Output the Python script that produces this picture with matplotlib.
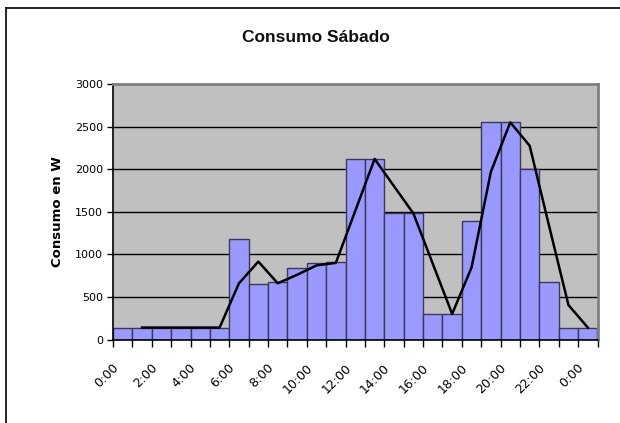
import matplotlib.pyplot as plt
import matplotlib.transforms as mtransforms
from matplotlib.lines import Line2D
import numpy as np

# Datos
horas = ["0:00", "1:00", "2:00", "3:00", "4:00", "5:00", "6:00", "7:00", "8:00",
         "9:00", "10:00", "11:00", "12:00", "13:00", "14:00", "15:00", "16:00",
         "17:00", "18:00", "19:00", "20:00", "21:00", "22:00", "23:00", "0:00"]
consumo = [140, 140, 140, 140, 140, 140, 1180, 650, 670, 845, 900, 905, 2120,
           2120, 1480, 1480, 300, 300, 1390, 2550, 2550, 2000, 670, 140, 140]
# media movil (linea negra), sin valor en la primera hora
media = [np.nan, 140, 140, 140, 140, 140, 660, 915, 660, 760, 870, 900, 1510,
         2120, 1800, 1480, 890, 300, 845, 1970, 2550, 2275, 1335, 405, 140]
etiquetas_y = [0, 500, 1000, 1500, 2000, 2500, 3000]

plt.rcParams["font.family"] = "DejaVu Sans"

fig = plt.figure(figsize=(6.2, 4.23), dpi=100)
ax = fig.add_axes([113 / 620, 1 - 339.5 / 423, 484.5 / 620, 255.5 / 423])

x = np.arange(len(consumo))
ax.set_facecolor("#C0C0C0")
ax.set_axisbelow(True)
ax.yaxis.grid(True, color="black", linewidth=1)
ax.bar(x, consumo, width=1.0, color="#9999FF", edgecolor="#3a3a55", linewidth=1)
ax.plot(x, media, color="black", linewidth=1.8)

ax.set_xlim(-0.5, len(consumo) - 0.5)
ax.set_ylim(0, 3000)
ax.set_yticks(etiquetas_y)
ax.set_yticklabels([str(v) for v in etiquetas_y], fontsize=8)
ax.tick_params(axis="y", direction="out", length=4, width=1, pad=3)

# marcas entre categorias, etiquetas cada dos horas
ax.set_xticks(np.arange(-0.5, len(consumo), 1.0), minor=True)
ax.set_xticks(x[::2])
ax.set_xticklabels(horas[::2], fontsize=9, rotation=45,
                   ha="right", va="center", rotation_mode="anchor")
ax.tick_params(axis="x", which="major", length=0, pad=19)
ax.tick_params(axis="x", which="minor", direction="out", length=5, width=1)
offset = mtransforms.ScaledTranslation(-6 / 100, 0, fig.dpi_scale_trans)
for lab in ax.get_xticklabels():
    lab.set_transform(lab.get_transform() + offset)

for s in ["left", "bottom"]:
    ax.spines[s].set_color("black")
    ax.spines[s].set_linewidth(1.2)
for s in ["top", "right"]:
    ax.spines[s].set_color("#808080")
    ax.spines[s].set_linewidth(2)

ax.set_ylabel("Consumo en W", fontsize=9.5, fontweight="bold", labelpad=8)
fig.text(316 / 620, 1 - 37 / 423, "Consumo Sábado", fontsize=12.5,
         family="Liberation Sans", fontweight="bold", ha="center", va="center",
         color="#111111")

# borde del area del grafico (solo izquierda y arriba visibles)
fig.add_artist(Line2D([6 / 620, 6 / 620], [0, 1 - 8 / 423], color="black", linewidth=1.2))
fig.add_artist(Line2D([6 / 620, 1], [1 - 8 / 423, 1 - 8 / 423], color="black", linewidth=1.2))

fig.savefig("out.png", dpi=100)
